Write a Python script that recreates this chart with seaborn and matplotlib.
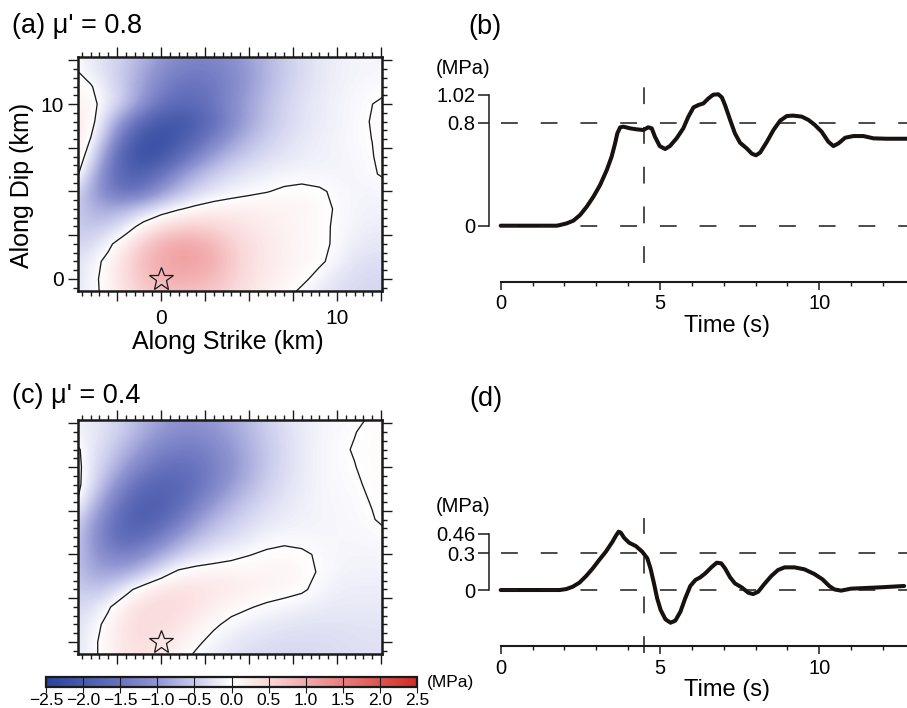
import numpy as np
import matplotlib.pyplot as plt
from matplotlib.colors import LinearSegmentedColormap, Normalize
from matplotlib.ticker import MultipleLocator, FuncFormatter
import seaborn as sns

sns.set_theme(style='white')
plt.rcParams['font.family'] = ['Liberation Sans', 'DejaVu Sans']
plt.rcParams['text.color'] = 'black'
plt.rcParams['axes.labelcolor'] = 'black'
plt.rcParams['xtick.color'] = 'black'
plt.rcParams['ytick.color'] = 'black'

# ---- fault plane grid (km), stress change (MPa) ----
strike_km = [-5, -4, -3, -2, -1, 0, 1, 2, 3, 4, 5, 6, 7, 8, 9, 10, 11, 12, 13]
dip_km = [-1, 0, 1, 2, 3, 4, 5, 6, 7, 8, 9, 10, 11, 12, 13]

# rows go from dip -1 km (bottom) to 13 km (top)
stress_a = [
    [-0.25, -0.10, 0.10, 0.35, 0.55, 0.68, 0.72, 0.70, 0.60, 0.45, 0.30, 0.18, 0.06, -0.10, -0.22, -0.30, -0.35, -0.38, -0.38],
    [-0.25, -0.12, 0.15, 0.45, 0.72, 0.88, 0.95, 0.92, 0.80, 0.60, 0.38, 0.24, 0.14, 0.065, -0.10, -0.25, -0.32, -0.35, -0.35],
    [-0.30, -0.15, 0.10, 0.45, 0.80, 1.00, 1.10, 1.08, 0.95, 0.65, 0.42, 0.28, 0.18, 0.11, 0.05, -0.10, -0.25, -0.30, -0.30],
    [-0.40, -0.35, -0.08, 0.25, 0.65, 0.92, 1.05, 1.02, 0.85, 0.60, 0.40, 0.27, 0.18, 0.12, 0.06, -0.04, -0.17, -0.22, -0.22],
    [-0.45, -0.55, -0.45, -0.20, 0.15, 0.40, 0.55, 0.58, 0.50, 0.40, 0.30, 0.22, 0.16, 0.11, 0.05, -0.03, -0.12, -0.16, -0.16],
    [-0.45, -0.70, -0.80, -0.65, -0.42, -0.20, -0.03, 0.10, 0.18, 0.20, 0.20, 0.18, 0.15, 0.12, 0.06, -0.02, -0.10, -0.13, -0.12],
    [-0.30, -0.80, -1.30, -1.55, -1.40, -1.00, -0.65, -0.40, -0.24, -0.13, -0.06, -0.01, 0.04, 0.06, 0.03, -0.04, -0.09, -0.10, -0.08],
    [0.25, -0.55, -1.35, -1.85, -1.85, -1.50, -1.05, -0.70, -0.47, -0.32, -0.22, -0.15, -0.10, -0.08, -0.09, -0.10, -0.09, -0.03, 0.07],
    [0.35, -0.20, -1.15, -1.95, -2.25, -2.10, -1.70, -1.25, -0.88, -0.62, -0.44, -0.32, -0.24, -0.18, -0.14, -0.11, -0.07, -0.01, 0.10],
    [0.35, -0.01, -0.75, -1.65, -2.15, -2.25, -2.05, -1.70, -1.30, -0.95, -0.65, -0.45, -0.32, -0.22, -0.15, -0.10, -0.05, 0.002, 0.10],
    [0.30, 0.15, -0.50, -1.15, -1.75, -2.05, -2.10, -1.95, -1.60, -1.20, -0.85, -0.58, -0.40, -0.27, -0.18, -0.12, -0.06, 0.012, 0.10],
    [0.20, 0.10, -0.17, -0.55, -1.05, -1.48, -1.70, -1.65, -1.45, -1.15, -0.85, -0.60, -0.40, -0.27, -0.18, -0.12, -0.06, -0.002, 0.08],
    [0.10, 0.03, -0.25, -0.55, -0.92, -1.25, -1.48, -1.52, -1.42, -1.20, -0.95, -0.68, -0.47, -0.32, -0.21, -0.14, -0.08, -0.05, -0.04],
    [0.03, -0.18, -0.35, -0.55, -0.82, -1.10, -1.28, -1.35, -1.30, -1.15, -0.95, -0.70, -0.50, -0.34, -0.23, -0.15, -0.11, -0.09, -0.08],
    [-0.08, -0.16, -0.30, -0.45, -0.68, -0.92, -1.10, -1.20, -1.18, -1.06, -0.88, -0.66, -0.48, -0.33, -0.22, -0.14, -0.10, -0.08, -0.07],
]

stress_c = [
    [-0.28, -0.08, 0.12, 0.30, 0.32, 0.25, 0.10, -0.08, -0.20, -0.28, -0.32, -0.35, -0.36, -0.36, -0.35, -0.33, -0.30, -0.30, -0.30],
    [-0.28, -0.10, 0.15, 0.35, 0.40, 0.33, 0.22, 0.06, -0.10, -0.20, -0.26, -0.30, -0.32, -0.32, -0.32, -0.30, -0.28, -0.27, -0.27],
    [-0.30, -0.15, 0.10, 0.35, 0.45, 0.42, 0.33, 0.20, 0.05, -0.08, -0.15, -0.20, -0.24, -0.26, -0.27, -0.27, -0.26, -0.25, -0.25],
    [-0.35, -0.30, -0.04, 0.25, 0.42, 0.45, 0.42, 0.33, 0.22, 0.10, 0.02, -0.05, -0.10, -0.14, -0.18, -0.20, -0.20, -0.20, -0.20],
    [-0.45, -0.55, -0.45, -0.12, 0.18, 0.35, 0.38, 0.35, 0.30, 0.25, 0.20, 0.15, 0.10, 0.04, -0.08, -0.15, -0.17, -0.17, -0.17],
    [-0.50, -0.80, -0.90, -0.80, -0.55, -0.20, 0.07, 0.15, 0.16, 0.15, 0.14, 0.13, 0.12, 0.08, -0.02, -0.10, -0.12, -0.12, -0.12],
    [-0.45, -0.90, -1.20, -1.30, -1.10, -0.80, -0.50, -0.30, -0.17, -0.08, -0.01, 0.04, 0.06, 0.04, -0.03, -0.08, -0.10, -0.10, -0.10],
    [-0.40, -0.95, -1.45, -1.70, -1.60, -1.30, -0.95, -0.65, -0.45, -0.32, -0.23, -0.10, -0.06, -0.08, -0.08, -0.08, -0.07, -0.05, -0.02],
    [-0.30, -0.80, -1.35, -1.80, -1.95, -1.75, -1.40, -1.00, -0.70, -0.50, -0.35, -0.25, -0.18, -0.13, -0.10, -0.08, -0.05, -0.01, 0.05],
    [0.15, -0.50, -1.10, -1.60, -1.90, -1.90, -1.70, -1.35, -1.00, -0.72, -0.50, -0.34, -0.23, -0.15, -0.10, -0.07, -0.04, 0.008, 0.05],
    [0.20, -0.25, -0.80, -1.30, -1.65, -1.80, -1.75, -1.55, -1.25, -0.95, -0.68, -0.45, -0.30, -0.18, -0.10, -0.05, -0.02, 0.025, 0.05],
    [0.20, -0.22, -0.55, -0.95, -1.30, -1.52, -1.60, -1.50, -1.30, -1.05, -0.78, -0.52, -0.33, -0.20, -0.10, -0.04, -0.005, 0.05, 0.07],
    [0.15, -0.22, -0.42, -0.72, -1.02, -1.25, -1.36, -1.35, -1.20, -1.00, -0.75, -0.52, -0.34, -0.20, -0.10, -0.03, 0.01, 0.05, 0.07],
    [-0.10, -0.18, -0.32, -0.52, -0.78, -1.00, -1.13, -1.15, -1.05, -0.88, -0.68, -0.48, -0.32, -0.20, -0.11, -0.05, -0.005, 0.04, 0.06],
    [-0.12, -0.20, -0.32, -0.48, -0.68, -0.88, -0.98, -1.00, -0.92, -0.78, -0.60, -0.42, -0.28, -0.17, -0.10, -0.06, -0.04, 0.01, 0.04],
]

hypo_strike = 0.0
hypo_dip = 0.0

# ---- stress history at the hypocentre ----
time_b = [0.0, 1.76, 1.86, 2.07, 2.28, 2.49, 2.70, 2.91, 3.12, 3.33, 3.48, 3.59, 3.66, 3.75,
          3.85, 4.06, 4.27, 4.48, 4.63, 4.74, 4.84, 4.99, 5.16, 5.31, 5.52, 5.73, 5.89, 6.05,
          6.20, 6.36, 6.52, 6.67, 6.83, 6.94, 7.04, 7.20, 7.35, 7.51, 7.72, 7.88, 8.01, 8.14,
          8.35, 8.56, 8.77, 8.98, 9.18, 9.45, 9.66, 9.86, 10.07, 10.28, 10.44, 10.60, 10.81,
          11.07, 11.38, 11.70, 12.11, 12.75]
stress_b = [0.0, 0.0, 0.005, 0.018, 0.039, 0.083, 0.148, 0.226, 0.317, 0.434, 0.537, 0.641, 0.719, 0.766,
            0.771, 0.758, 0.750, 0.745, 0.766, 0.758, 0.693, 0.620, 0.597, 0.620, 0.680, 0.758, 0.849, 0.921,
            0.939, 0.952, 0.991, 1.020, 1.023, 0.999, 0.939, 0.823, 0.719, 0.646, 0.602, 0.561, 0.548, 0.569,
            0.652, 0.745, 0.818, 0.854, 0.857, 0.849, 0.823, 0.784, 0.732, 0.654, 0.620, 0.641, 0.685,
            0.698, 0.698, 0.680, 0.677, 0.677]

time_d = [0.0, 1.85, 2.06, 2.26, 2.47, 2.68, 2.89, 3.09, 3.30, 3.51, 3.61, 3.70, 3.77, 3.87, 4.03,
          4.24, 4.44, 4.60, 4.70, 4.81, 4.91, 5.02, 5.17, 5.33, 5.48, 5.64, 5.79, 5.95, 6.11, 6.26,
          6.42, 6.63, 6.78, 6.92, 7.04, 7.20, 7.35, 7.56, 7.77, 7.92, 8.08, 8.29, 8.49, 8.70, 8.91,
          9.22, 9.53, 9.84, 10.10, 10.31, 10.47, 10.68, 10.99, 11.40, 11.92, 12.66]
stress_d = [0.0, 0.0, 0.008, 0.027, 0.060, 0.114, 0.177, 0.245, 0.313, 0.395, 0.441, 0.476, 0.468, 0.427, 0.386,
            0.359, 0.313, 0.259, 0.177, 0.054, -0.068, -0.163, -0.239, -0.267, -0.250, -0.177, -0.068, 0.033, 0.082, 0.103,
            0.136, 0.190, 0.223, 0.218, 0.177, 0.103, 0.054, 0.022, -0.022, -0.033, -0.014, 0.054, 0.114, 0.163, 0.185,
            0.185, 0.169, 0.131, 0.087, 0.033, 0.005, -0.005, 0.011, 0.016, 0.022, 0.033]

rupture_time = 4.5
levels_b = [0.0, 0.8]
ticks_b = [0.0, 0.8, 1.02]
labels_b = ['0', '0.8', '1.02']
levels_d = [0.0, 0.3]
ticks_d = [0.0, 0.3, 0.46]
labels_d = ['0', '0.3', '0.46']

cbar_ticks = [-2.5, -2.0, -1.5, -1.0, -0.5, 0.0, 0.5, 1.0, 1.5, 2.0, 2.5]
cbar_labels = ['\u22122.5', '\u22122.0', '\u22121.5', '\u22121.0', '\u22120.5', '0.0',
               '0.5', '1.0', '1.5', '2.0', '2.5']
cmap_colors = ['#2a429e', '#485cac', '#6973be', '#9196d2', '#c8caec', '#ffffff',
               '#fad7d8', '#f2aaac', '#e97d7f', '#de5452', '#d42a24']

cmap = LinearSegmentedColormap.from_list('stress', cmap_colors)
norm = Normalize(vmin=-2.5, vmax=2.5)

W, H = 907, 708
fig = plt.figure(figsize=(W / 100, H / 100), dpi=100)


def px_axes(left, top, right, bottom):
    return fig.add_axes([left / W, 1 - bottom / H, (right - left) / W, (bottom - top) / H])


def label_some(values):
    return FuncFormatter(lambda v, p: f'{v:.0f}' if any(abs(v - s) < 1e-6 for s in values) else '')


def draw_map(ax, grid, show_labels):
    z = np.array(grid)
    im = ax.imshow(z, origin='lower', extent=(-5.5, 13.5, -1.5, 13.5), cmap=cmap, norm=norm,
                   interpolation='bicubic', aspect='auto')
    ax.contour(strike_km, dip_km, z, levels=[0], colors='k', linewidths=0.95)
    ax.plot(hypo_strike, hypo_dip, marker='*', ms=18, mfc='none', mec='k', mew=0.9)
    ax.set_xlim(-4.72, 12.56)
    ax.set_ylim(-0.69, 12.69)
    ax.xaxis.set_major_locator(MultipleLocator(2.5))
    ax.xaxis.set_minor_locator(MultipleLocator(0.5))
    ax.yaxis.set_major_locator(MultipleLocator(2.5))
    ax.yaxis.set_minor_locator(MultipleLocator(0.5))
    ax.xaxis.set_major_formatter(label_some([0, 10]))
    ax.yaxis.set_major_formatter(label_some([0, 10]))
    ax.tick_params(which='both', direction='out', top=True, right=True, bottom=True, left=True,
                   color='k', width=1.0, labelsize=15,
                   labelbottom=show_labels, labelleft=show_labels)
    ax.tick_params(which='major', length=7.2)
    ax.tick_params(which='minor', length=3.6)
    ax.tick_params(axis='x', which='major', pad=6)
    ax.tick_params(axis='y', which='major', pad=3)
    for sp in ax.spines.values():
        sp.set_linewidth(1.8)
        sp.set_color('k')
    ax.grid(False)
    return im


def draw_trace(ax, t, s, levels, ticks, labels, ylim, vspan):
    t_end = 12.75
    sns.lineplot(x=t, y=s, ax=ax, color='#17120f', lw=2.9)
    ax.hlines(levels, 0, t_end, colors='#1a1a1a', lw=1.1, linestyles=(0, (11, 15)))
    ax.vlines(rupture_time, vspan[0], vspan[1], colors='#1a1a1a', lw=1.1,
              linestyles=(0, (11, 15)), clip_on=False)
    ax.set_xlim(-0.367, t_end)
    ax.set_ylim(*ylim)
    for side in ['top', 'right']:
        ax.spines[side].set_visible(False)
    ax.spines['left'].set_bounds(ticks[0], ticks[-1])
    ax.spines['left'].set_linewidth(1.1)
    ax.spines['bottom'].set_bounds(0, t_end)
    ax.spines['bottom'].set_linewidth(1.5)
    for sp in ax.spines.values():
        sp.set_color('k')
    ax.set_yticks(ticks)
    ax.set_yticklabels(labels)
    ax.set_xticks([0, 5, 10])
    ax.set_xticklabels(['0', '5', '10'])
    ax.xaxis.set_minor_locator(MultipleLocator(1))
    ax.tick_params(axis='y', which='major', left=True, direction='out', length=8, width=1.1,
                   color='k', labelsize=14.5, pad=2)
    ax.tick_params(axis='x', which='major', bottom=True, direction='out', length=6, width=1.1,
                   color='k', labelsize=14.5, pad=3)
    ax.tick_params(axis='x', which='minor', bottom=True, direction='out', length=3, width=1.0,
                   color='k')
    ax.set_xlabel('')
    ax.set_ylabel('')
    ax.grid(False)
    ax.patch.set_alpha(0)


# panel (a)
ax_a = px_axes(78, 57, 382, 291)
im = draw_map(ax_a, stress_a, True)
# panel (c)
ax_c = px_axes(78, 420, 382, 654)
draw_map(ax_c, stress_c, False)

fig.text(228 / W, 1 - 342 / H, 'Along Strike (km)', fontsize=18, ha='center', va='center')
fig.text(22 / W, 1 - 185 / H, 'Along Dip (km)', fontsize=18, ha='center', va='center', rotation=90)

# colour bar
cax = px_axes(46, 677, 417, 687)
cb = fig.colorbar(im, cax=cax, orientation='horizontal')
cb.set_ticks(cbar_ticks)
cb.set_ticklabels(cbar_labels)
cb.outline.set_linewidth(1.6)
cb.outline.set_edgecolor('k')
for v in cbar_ticks:
    cax.axvline(v, color='k', lw=0.8)
cax.tick_params(bottom=True, direction='out', length=4, width=0.8, color='k', labelsize=12.5, pad=0)
fig.text(427 / W, 1 - 683 / H, '(MPa)', fontsize=12.5, ha='left', va='center')

# panel (b)
ax_b = px_axes(489, 60, 907, 281.7)
draw_trace(ax_b, time_b, stress_b, levels_b, ticks_b, labels_b, (-0.436, 1.29), (-0.293, 1.12))
# panel (d)
ax_d = px_axes(489, 420, 907, 646)
draw_trace(ax_d, time_d, stress_d, levels_d, ticks_d, labels_d, (-0.457, 1.388), (-0.514, 0.585))

fig.text(463 / W, 1 - 69 / H, '(MPa)', fontsize=14.5, ha='center', va='center')
fig.text(463 / W, 1 - 507 / H, '(MPa)', fontsize=14.5, ha='center', va='center')
fig.text(727 / W, 1 - 326 / H, 'Time (s)', fontsize=17, ha='center', va='center')
fig.text(727 / W, 1 - 690 / H, 'Time (s)', fontsize=17, ha='center', va='center')

# panel titles
fig.text(12 / W, 1 - 26 / H, "(a) \u03bc' = 0.8", fontsize=19.5, ha='left', va='center')
fig.text(485 / W, 1 - 27 / H, '(b)', fontsize=19.5, ha='center', va='center')
fig.text(12 / W, 1 - 396 / H, "(c) \u03bc' = 0.4", fontsize=19.5, ha='left', va='center')
fig.text(486 / W, 1 - 399 / H, '(d)', fontsize=19.5, ha='center', va='center')

fig.savefig('out.png', dpi=100)
